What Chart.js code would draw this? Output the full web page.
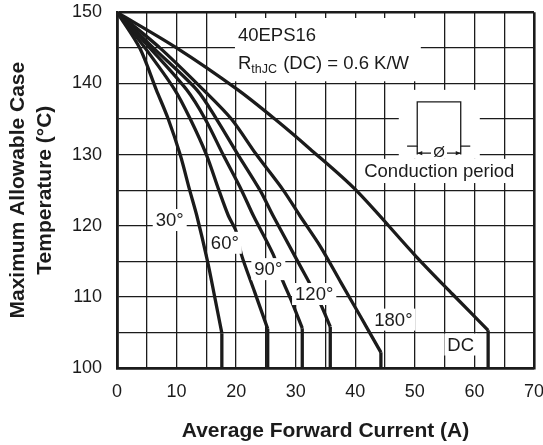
<!DOCTYPE html>
<html>
<head>
<meta charset="utf-8">
<script src="https://cdn.jsdelivr.net/npm/chart.js@4.4.1/dist/chart.umd.min.js"></script>
<style>
  html, body { margin: 0; padding: 0; background: #fff; }
  #wrap { width: 543px; height: 445px; }
</style>
</head>
<body>
<div id="wrap"><canvas id="chart" width="543" height="445"></canvas></div>
<script>
const FONT = '"Liberation Sans", Arial, Helvetica, sans-serif';
const INK = '#1b1b1b';

// curve labels (conduction angle)
const seriesNames = ['30°', '60°', '90°', '120°', '180°', 'DC'];

// average forward current (A) / max case temperature (°C)
// last pair of each list is the straight drop to the axis
const current30 = [0, 3.8, 6.6, 8.6, 10.6, 12.2, 13.4, 15.2, 16.4, 17.6, 17.6];
const temp30 = [150, 145, 139.1, 135, 130, 125, 121.4, 115, 110, 104.9, 100];

const current60 = [0, 4.7, 9.7, 12.3, 15.0, 17.1, 18.7, 20.0, 20.9, 23.1, 25.3, 25.3];
const temp60 = [150, 145, 139.1, 135, 130, 125, 121.4, 119.2, 115.9, 110.7, 105.5, 100];

const current90 = [0, 5.5, 11.7, 14.8, 17.8, 20.9, 22.9, 26.2, 27.6, 29.4, 31.1, 31.1];
const temp90 = [150, 145, 139.1, 135, 130, 125, 121.4, 116, 112.7, 109.2, 105.6, 100];

const current120 = [0, 6.1, 13.4, 16.7, 20.3, 24.0, 26.2, 30.2, 34.1, 35.8, 35.8];
const temp120 = [150, 145, 139.1, 135, 130, 125, 121.4, 115.2, 109.1, 105.8, 100];

const current180 = [0, 7.2, 14.5, 19.2, 23.4, 27.9, 30.7, 34.2, 37.6, 40.9, 44.3, 44.3];
const temp180 = [150, 145, 139.1, 135, 130, 125, 121.4, 117, 112, 107.2, 102.2, 100];

const currentDC = [0, 10.0, 20.3, 26.5, 32.4, 40.0, 50.3, 56.3, 62.3, 62.3];
const tempDC = [150, 145, 139.1, 135, 130.8, 125.1, 115.6, 110.4, 105.3, 100];

const xTicks = [0, 10, 20, 30, 40, 50, 60, 70];
const yTicks = [100, 110, 120, 130, 140, 150];

// where each curve label sits (data units)
const labelAt = [[8.85, 120.8], [18.1, 117.6], [25.4, 113.9], [33.1, 110.4], [46.4, 106.8], [57.7, 103.3]];

function pairUp(xs, ys) {
  return xs.map((v, i) => ({ x: v, y: ys[i] }));
}

const curves = [
  pairUp(current30, temp30),
  pairUp(current60, temp60),
  pairUp(current90, temp90),
  pairUp(current120, temp120),
  pairUp(current180, temp180),
  pairUp(currentDC, tempDC),
];

function whiteBox(ctx, x, y, x0, y0, x1, y1) {
  const l = x.getPixelForValue(x0);
  const r = x.getPixelForValue(x1);
  const t = y.getPixelForValue(y0);
  const b = y.getPixelForValue(y1);
  ctx.fillStyle = '#fff';
  ctx.fillRect(l, t, r - l, b - t);
}

function arrowHead(ctx, px, py, dir) {
  ctx.beginPath();
  ctx.moveTo(px, py);
  ctx.lineTo(px - dir * 5, py - 2.2);
  ctx.lineTo(px - dir * 5, py + 2.2);
  ctx.closePath();
  ctx.fill();
}

const annotate = {
  id: 'annotate',
  beforeDatasetsDraw(chart) {
    const { ctx, scales: { x, y } } = chart;
    ctx.save();
    whiteBox(ctx, x, y, 19.8, 149.2, 51.0, 140.3);
    whiteBox(ctx, x, y, 47.3, 139.1, 60.9, 129.4);
    whiteBox(ctx, x, y, 41.2, 129.4, 67.3, 126.0);

    ctx.fillStyle = INK;
    ctx.textBaseline = 'alphabetic';
    ctx.textAlign = 'left';
    ctx.font = '18.5px ' + FONT;
    const tx = x.getPixelForValue(20.3);
    ctx.fillText('40EPS16', tx, y.getPixelForValue(146.0));
    const by = y.getPixelForValue(142.1);
    ctx.fillText('R', tx, by);
    let cx = tx + ctx.measureText('R').width;
    ctx.font = '12.5px ' + FONT;
    ctx.fillText('thJC', cx, by + 4);
    cx += ctx.measureText('thJC').width + 1;
    ctx.font = '18.5px ' + FONT;
    ctx.fillText(' (DC) = 0.6 K/W', cx, by);

    // conduction period sketch
    const l = x.getPixelForValue(50.4);
    const r = x.getPixelForValue(57.7);
    const top = y.getPixelForValue(137.4);
    const base = y.getPixelForValue(131.2);
    ctx.strokeStyle = INK;
    ctx.lineWidth = 1.3;
    ctx.beginPath();
    ctx.moveTo(x.getPixelForValue(48.7), base);
    ctx.lineTo(l, base);
    ctx.lineTo(l, top);
    ctx.lineTo(r, top);
    ctx.lineTo(r, base);
    ctx.lineTo(x.getPixelForValue(59.3), base);
    ctx.stroke();
    ctx.beginPath();
    ctx.moveTo(l, base);
    ctx.lineTo(l, y.getPixelForValue(130.0));
    ctx.moveTo(r, base);
    ctx.lineTo(r, y.getPixelForValue(130.0));
    ctx.stroke();

    const ay = y.getPixelForValue(130.2);
    const mid = (l + r) / 2;
    ctx.beginPath();
    ctx.moveTo(l, ay);
    ctx.lineTo(mid - 8, ay);
    ctx.moveTo(mid + 8, ay);
    ctx.lineTo(r, ay);
    ctx.stroke();
    arrowHead(ctx, l, ay, -1);
    arrowHead(ctx, r, ay, 1);
    ctx.font = '15px ' + FONT;
    ctx.textAlign = 'center';
    ctx.textBaseline = 'middle';
    ctx.fillText('Ø', mid, ay);

    ctx.font = '18.5px ' + FONT;
    ctx.fillText('Conduction period', x.getPixelForValue(54.1), y.getPixelForValue(127.6));
    ctx.restore();
  },
  afterDatasetsDraw(chart) {
    const { ctx, scales: { x, y } } = chart;
    ctx.save();
    ctx.font = '18.5px ' + FONT;
    ctx.textAlign = 'center';
    ctx.textBaseline = 'middle';
    seriesNames.forEach((name, i) => {
      const px = x.getPixelForValue(labelAt[i][0]);
      const py = y.getPixelForValue(labelAt[i][1]);
      const w = ctx.measureText(name).width;
      ctx.fillStyle = '#fff';
      ctx.fillRect(px - w / 2 - 3, py - 11, w + 6, 22);
      ctx.fillStyle = INK;
      ctx.fillText(name, px, py + 1);
    });
    ctx.restore();
  },
};

const edgeWidth = (lo, hi) => (c) => (c.tick.value === lo || c.tick.value === hi ? 2.6 : 1.3);

const lineStyle = { showLine: true, borderColor: INK, borderWidth: 3.3, pointRadius: 0, fill: false };

// each curve: smooth part up to the knee, then the straight vertical drop
const datasets = [];
curves.forEach((pts, i) => {
  datasets.push({ ...lineStyle, label: seriesNames[i], data: pts.slice(0, -1), tension: 0.3 });
  datasets.push({ ...lineStyle, label: seriesNames[i] + ' drop', data: pts.slice(-2), tension: 0 });
});

new Chart(document.getElementById('chart'), {
  type: 'scatter',
  data: { datasets },
  options: {
    responsive: false,
    animation: false,
    devicePixelRatio: 1,
    layout: { padding: { top: 12.3, right: 9, left: 0, bottom: 0 } },
    plugins: { legend: { display: false }, tooltip: { enabled: false } },
    scales: {
      x: {
        type: 'linear',
        min: 0,
        max: 70,
        afterFit: (s) => { s.height = 77; s.paddingLeft = 0; s.paddingRight = 0; },
        afterBuildTicks: (s) => { s.ticks = Array.from({ length: 15 }, (_, k) => ({ value: k * 5 })); },
        ticks: {
          autoSkip: false,
          maxRotation: 0,
          padding: 13,
          color: INK,
          font: { family: FONT, size: 18 },
          callback: (v) => (xTicks.includes(v) ? String(v) : ''),
        },
        grid: { color: INK, lineWidth: edgeWidth(0, 70), drawTicks: false },
        border: { display: true, color: INK, width: 2.6 },
        title: {
          display: true,
          text: 'Average Forward Current (A)',
          color: INK,
          font: { family: FONT, size: 21, weight: 'bold' },
          padding: { top: 0, bottom: 1.5 },
        },
      },
      y: {
        type: 'linear',
        min: 100,
        max: 150,
        afterFit: (s) => { s.width = 117; s.paddingTop = 0; s.paddingBottom = 0; },
        afterBuildTicks: (s) => { s.ticks = Array.from({ length: 11 }, (_, k) => ({ value: 100 + k * 5 })); },
        ticks: {
          autoSkip: false,
          padding: 15,
          color: INK,
          font: { family: FONT, size: 18 },
          callback: (v) => (yTicks.includes(v) ? String(v) : ''),
        },
        grid: { color: INK, lineWidth: edgeWidth(100, 150), drawTicks: false },
        border: { display: true, color: INK, width: 2.6 },
        title: {
          display: true,
          text: ['Maximum Allowable Case', 'Temperature (°C)'],
          color: INK,
          font: { family: FONT, size: 21, weight: 'bold', lineHeight: 1.29 },
          padding: { top: 4.5, bottom: 0 },
        },
      },
    },
  },
  plugins: [annotate],
});
</script>
</body>
</html>
